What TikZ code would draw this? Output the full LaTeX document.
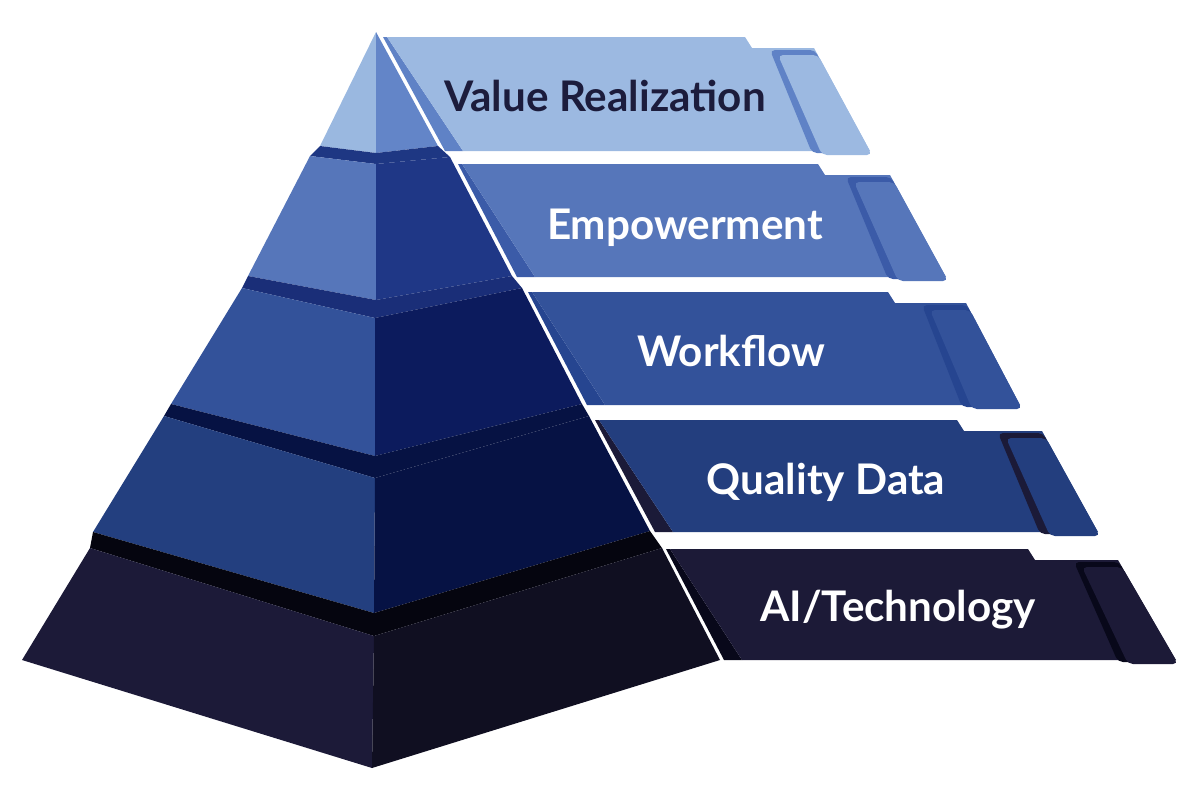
\documentclass[tikz,border=0pt]{standalone}
\usepackage{fontspec}
\setmainfont{Lato}
\usepackage{tikz}
\usetikzlibrary{positioning}

\definecolor{tabA}{HTML}{9CB9E1}
\definecolor{tabAsh}{HTML}{5F82C6}
\definecolor{tabB}{HTML}{5676BA}
\definecolor{tabBsh}{HTML}{3B5BA8}
\definecolor{tabC}{HTML}{33529A}
\definecolor{tabCsh}{HTML}{264590}
\definecolor{tabD}{HTML}{233E7E}
\definecolor{tabDsh}{HTML}{1B1A38}
\definecolor{tabE}{HTML}{1C1A37}
\definecolor{tabEsh}{HTML}{08081A}
\definecolor{txtdark}{HTML}{1C1C3C}

\definecolor{c1l}{HTML}{9AB8E0}
\definecolor{c1r}{HTML}{6385C8}
\definecolor{c2m}{HTML}{1E3783}
\definecolor{c2l}{HTML}{5676BA}
\definecolor{c2r}{HTML}{1F3786}
\definecolor{c3m}{HTML}{1A2E78}
\definecolor{c3l}{HTML}{33529A}
\definecolor{c3r}{HTML}{0C1B5D}
\definecolor{c4m}{HTML}{061243}
\definecolor{c4l}{HTML}{233F7F}
\definecolor{c4r}{HTML}{061244}
\definecolor{c5m}{HTML}{05050F}
\definecolor{c5l}{HTML}{1C1A38}
\definecolor{c5r}{HTML}{100F21}

\tikzset{
  tabtext/.style={anchor=base, inner sep=0pt, text=white, font=\fontsize{12}{14}\selectfont\bfseries},
  flap/.style={rounded corners=1.4pt}
}

% #1 fill, #2 shadow, #3 top, #4 bottom, #5/#6 edge x at top/bottom, #7 step x, #8/#9 right x top/bottom
\newcommand{\pyrtab}[9]{%
  \fill[#2] ({#5+4},#3) -- ({#6+4},#4) -- ({#6+22},#4) -- ({#5+8},#3) -- cycle;
  \fill[#1] ({#5+8},#3) -- (#7,#3) -- ({#7+7},{#3+11}) -- (#8,{#3+11})
    -- (#9,#4) -- ({#6+22},#4) -- cycle;
  \fill[#2, flap] ({#8-44},{#3+13}) -- ({#8+1},{#3+13}) -- ({#9-4},{#4+2}) -- ({#9-58},{#4+2}) -- cycle;
  \fill[#1, flap] ({#8-36},{#3+18}) -- ({#8+4},{#3+18}) -- ({#9+2},{#4+4}) -- ({#9-48},{#4+4}) -- cycle;
}

\begin{document}
\begin{tikzpicture}[x=0.01cm, y=-0.01cm]
  \useasboundingbox (0,0) rectangle (1200,800);

  % tabs
  \pyrtab{tabA}{tabAsh}{37}{151}{379}{441}{745}{814}{870}
  \pyrtab{tabB}{tabBsh}{164}{277}{454}{513}{818}{890}{946}
  \pyrtab{tabC}{tabCsh}{292}{405}{524}{583}{888}{966}{1020}
  \pyrtab{tabD}{tabDsh}{420}{532}{591}{651}{957}{1042}{1098}
  \pyrtab{tabE}{tabEsh}{549}{660}{662}{720}{1028}{1118}{1176}

  % pyramid corners
  \coordinate (apex) at (376,32);
  \coordinate (bl1) at (320,146); \coordinate (bf1) at (376,153); \coordinate (br1) at (438,146);
  \coordinate (tl2) at (310,156); \coordinate (tf2) at (376,164); \coordinate (tr2) at (450,157);
  \coordinate (bl2) at (248,276); \coordinate (bf2) at (376,300); \coordinate (br2) at (512,276);
  \coordinate (tl3) at (242,288); \coordinate (tf3) at (375,318); \coordinate (tr3) at (522,288);
  \coordinate (bl3) at (171,404); \coordinate (bf3) at (375,456); \coordinate (br3) at (582,404);
  \coordinate (tl4) at (164,416); \coordinate (tf4) at (375,478); \coordinate (tr4) at (589,416);
  \coordinate (bl4) at (93,532);  \coordinate (bf4) at (374,613); \coordinate (br4) at (650,531);
  \coordinate (tl5) at (90,548);  \coordinate (tf5) at (374,636); \coordinate (tr5) at (662,548);
  \coordinate (bl5) at (22,660);  \coordinate (bf5) at (372,768); \coordinate (br5) at (720,660);

  \fill[c1l] (apex) -- (bl1) -- (bf1) -- cycle;
  \fill[c1r] (apex) -- (bf1) -- (br1) -- cycle;
  \foreach \i/\j in {2/1,3/2,4/3,5/4} {
    \fill[c\i m] (tl\i) -- (tf\i) -- (tr\i) -- (br\j) -- (bf\j) -- (bl\j) -- cycle;
    \fill[c\i l] (tl\i) -- (tf\i) -- (bf\i) -- (bl\i) -- cycle;
    \fill[c\i r] (tf\i) -- (tr\i) -- (br\i) -- (bf\i) -- cycle;
  }

  % labels
  \node[tabtext, text=txtdark] (valreal) at (605,111) {Value Realization};
  \node[tabtext] (empower) at (685,239) {Empowerment};
  \node[tabtext] (workflow) at (731,366) {Workflow};
  \node[tabtext] (qualdata) at (826,494) {Quality Data};
  \node[tabtext] (aitech) at (898,621) {AI/Technology};
\end{tikzpicture}
\end{document}
